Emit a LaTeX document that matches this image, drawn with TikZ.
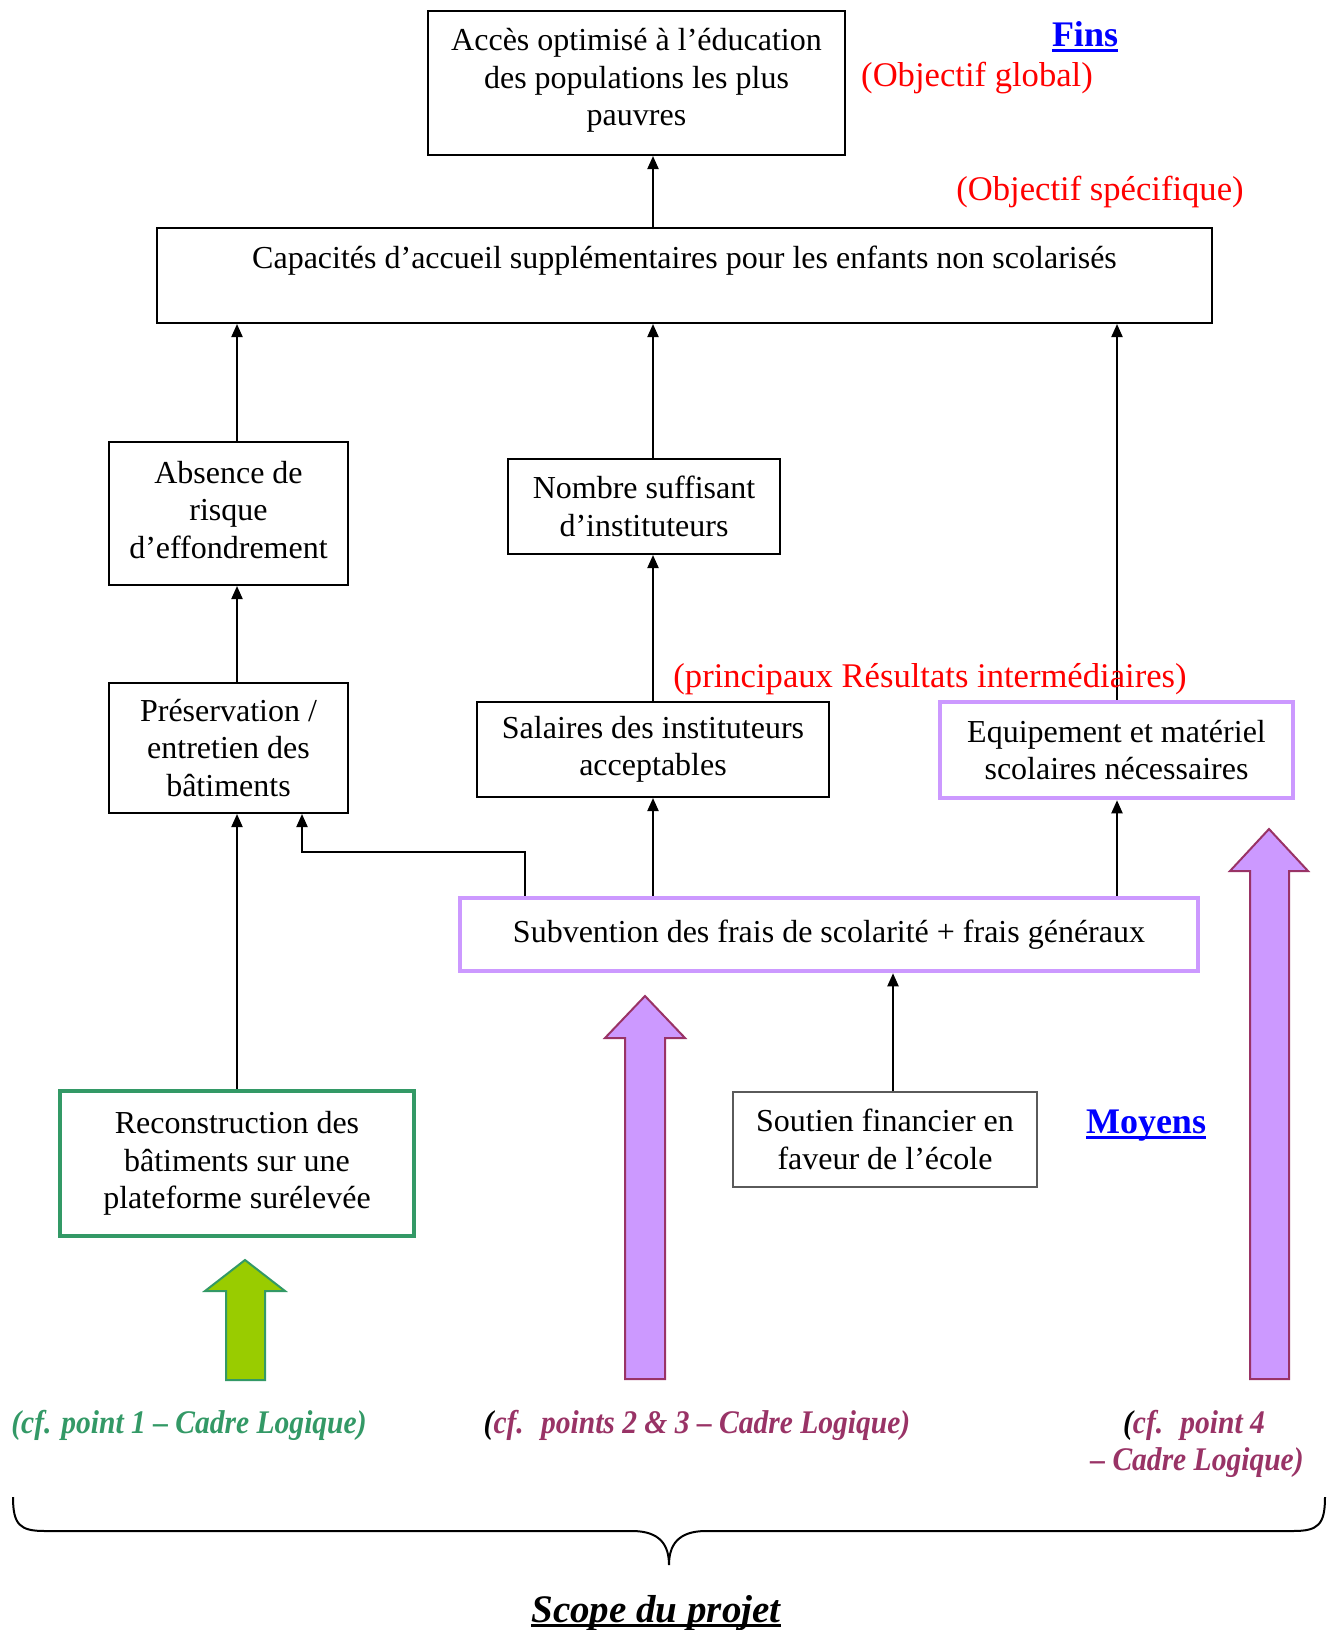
\documentclass[tikz,border=0pt]{standalone}
\usepackage{fontspec}
\setmainfont{Liberation Serif}
\usetikzlibrary{arrows.meta,calc}
\definecolor{redt}{RGB}{255,0,0}
\definecolor{bluet}{RGB}{0,0,255}
\definecolor{greenb}{RGB}{51,153,102}
\definecolor{greenf}{RGB}{153,204,0}
\definecolor{purf}{RGB}{204,153,255}
\definecolor{purd}{RGB}{153,51,102}
\definecolor{grayb}{RGB}{90,90,90}
\newcommand\ulthick[2]{\setbox0\hbox{#2}\rlap{\color{#1}\rule[-5pt]{\wd0}{3pt}}\box0}
\newcommand\condensed[1]{\scalebox{0.895}[1]{#1}}
\tikzset{
  body/.style={font=\fontsize{32}{37.4}\selectfont},
  box/.style={body,draw=black,line width=2pt,fill=white,align=center,inner sep=0pt},
  purbox/.style={box,draw=purf,line width=4.5pt},
  greenbox/.style={box,draw=greenb,line width=4.5pt},
  graybox/.style={box,draw=grayb,line width=1.2pt},
  arr/.style={line width=2pt,-{Triangle[length=13pt,width=11pt]}},
  redlab/.style={font=\fontsize{34.6}{39}\selectfont,text=redt,inner sep=0pt},
  titlab/.style={font=\fontsize{36}{40}\selectfont\bfseries,text=bluet,inner sep=0pt},
  cflab/.style={font=\fontsize{33}{38}\selectfont\bfseries\itshape,inner sep=0pt,align=center},
  bigarr/.style={line width=2pt,line join=miter},
}
\begin{document}
\begin{tikzpicture}[x=1pt,y=-1pt]
\useasboundingbox (0,0) rectangle (1335,1630);
% column coordinates
\coordinate (c1) at (237,0);
\coordinate (c2) at (653,0);
\coordinate (c3) at (1117,0);
\coordinate (c4) at (893,0);
\coordinate (c5) at (525,0);
\coordinate (elb) at (302,852);

% boxes
\node[box,minimum width=417pt,minimum height=144pt,text depth=12pt] (acces) at (636.5,83) {Accès optimisé à l’éducation\\des populations les plus\\pauvres};
\node[box,minimum width=1055pt,minimum height=95pt] (capa) at (684.5,275.5) {};
\node[body,inner sep=0pt] (capat) at (684.5,261) {Capacités d’accueil supplémentaires pour les enfants non scolarisés};
\node[box,minimum width=239pt,minimum height=143pt,text depth=8pt] (absence) at (228.5,513.5) {Absence de\\risque\\d’effondrement};
\node[box,minimum width=272pt,minimum height=95pt] (nombre) at (644,506.5) {Nombre suffisant\\d’instituteurs};
\node[box,minimum width=239pt,minimum height=130pt] (preserv) at (228.5,748) {Préservation /\\entretien des\\bâtiments};
\node[box,minimum width=352pt,minimum height=95pt] (salaires) at (653,749.5) {Salaires des instituteurs\\acceptables};
\node[purbox,minimum width=353pt,minimum height=96pt] (equip) at (1116.5,750) {Equipement et matériel\\scolaires nécessaires};
\node[purbox,minimum width=738pt,minimum height=73pt] (subv) at (829,934.5) {Subvention des frais de scolarité + frais généraux};
\node[greenbox,minimum width=354pt,minimum height=145pt] (recon) at (237,1163.5) {Reconstruction des\\bâtiments sur une\\plateforme surélevée};
\node[graybox,minimum width=304pt,minimum height=95pt] (soutien) at (885,1139.5) {Soutien financier en\\faveur de l’école};

% labels
\node[titlab] (fins) at (1085,37) {\ulthick{bluet}{Fins}};
\node[titlab] (moyens) at (1146,1126) {\ulthick{bluet}{Moyens}};
\node[redlab] (objg) at (977,78) {(Objectif global)};
\node[redlab] (objs) at (1100,192) {(Objectif spécifique)};

% connectors
\draw[arr] (capa.north -| c2) -- (acces.south -| c2);
\draw[arr] (absence.north -| c1) -- (capa.south -| c1);
\draw[arr] (nombre.north -| c2) -- (capa.south -| c2);
\draw[arr] (equip.north -| c3) -- (capa.south -| c3);
\draw[arr] (preserv.north -| c1) -- (absence.south -| c1);
\draw[arr] (salaires.north -| c2) -- (nombre.south -| c2);
\draw[arr] (subv.north -| c2) -- (salaires.south -| c2);
\draw[arr] (subv.north -| c3) -- (equip.south -| c3);
\draw[arr] (subv.north -| c5) |- (elb) -- (preserv.south -| elb);
\draw[arr] (recon.north -| c1) -- (preserv.south -| c1);
\draw[arr] (soutien.north -| c4) -- (subv.south -| c4);

\node[redlab] (resint) at (930,679) {(principaux Résultats intermédiaires)};

% big arrows
\draw[bigarr,draw=greenb,fill=greenf] (226,1380) -- (226,1291) -- (205,1291) -- (245,1260) -- (285,1291) -- (265,1291) -- (265,1380) -- cycle;
\draw[bigarr,draw=purd,fill=purf] (625,1379) -- (625,1038) -- (605,1038) -- (645,996) -- (685,1038) -- (665,1038) -- (665,1379) -- cycle;
\draw[bigarr,draw=purd,fill=purf] (1250,1379) -- (1250,871) -- (1230,871) -- (1269,829) -- (1308,871) -- (1289,871) -- (1289,1379) -- cycle;

% cf labels
\node[cflab,text=greenb] (cf1) at (189,1425) {\condensed{(cf. point 1 – Cadre Logique)}};
\node[cflab,text=purd] (cf2) at (697,1425) {\condensed{{\color{black}(}cf.~ points 2 \& 3 – Cadre Logique)}};
\node[cflab,text=purd] (cf3a) at (1194,1425) {\condensed{{\color{black}(}cf.~ point 4}};
\node[cflab,text=purd] (cf3b) at (1197,1463) {\condensed{– Cadre Logique)}};

% brace
\draw[line width=2pt] (13,1497) .. controls (13,1525) and (20,1531) .. (45,1531) -- (632,1531) .. controls (660,1531) and (669,1545) .. (669,1565) .. controls (669,1545) and (678,1531) .. (706,1531) -- (1293,1531) .. controls (1318,1531) and (1325,1525) .. (1325,1497);
\node[cflab,font=\fontsize{39}{42}\selectfont\bfseries\itshape] (scope) at (656,1613) {\ulthick{black}{Scope du projet}};
\end{tikzpicture}
\end{document}
